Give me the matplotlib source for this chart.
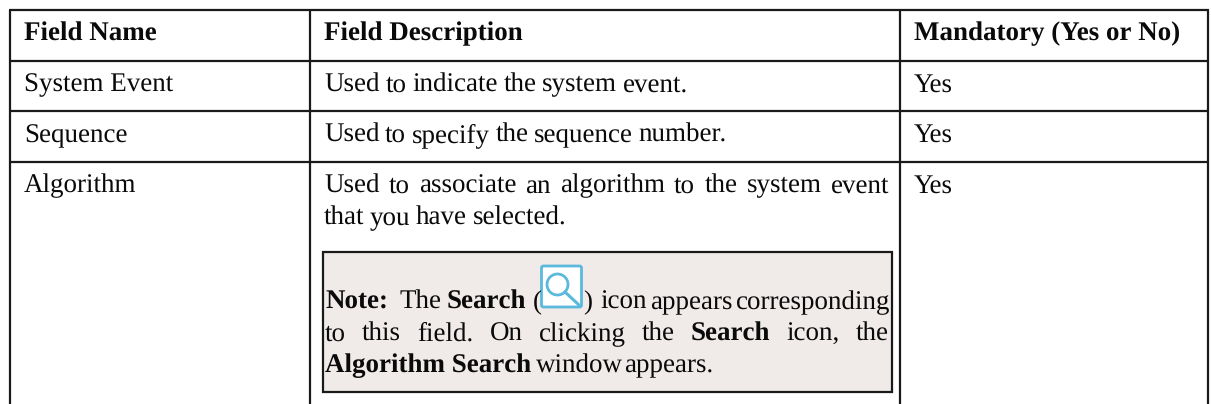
import matplotlib
matplotlib.use("Agg")
import matplotlib.pyplot as plt
from matplotlib.patches import Rectangle, FancyBboxPatch, Circle
from matplotlib.lines import Line2D

plt.rcParams["text.hinting"] = "no_hinting"
plt.rcParams["text.hinting_factor"] = 1

W, H = 1211, 404
FONT = "Liberation Serif"
FS = 19.1
FS_BOLD = 19.1

headers = ["Field Name", "Field Description", "Mandatory (Yes or No)"]
names = ["System Event", "Sequence", "Algorithm"]
mandatory = ["Yes", "Yes", "Yes"]
desc_single = [["Used", "to", "indicate", "the", "system", "event."],
               ["Used", "to", "specify", "the", "sequence", "number."]]
desc_alg = [["Used", "to", "associate", "an", "algorithm", "to", "the", "system", "event"],
            ["that", "you", "have", "selected."]]

fig = plt.figure(figsize=(W / 100, H / 100), dpi=100)
ax = fig.add_axes([0, 0, 1, 1])
ax.set_xlim(0, W)
ax.set_ylim(H, 0)
ax.axis("off")

def t(x, y, s, bold=False, ha="left"):
    return ax.text(x, y, s, family=FONT, fontsize=FS_BOLD if bold else FS, weight="bold" if bold else "normal",
                   ha=ha, va="baseline", color="#0a0a0a", zorder=5)

def line(x0, y0, x1, y1, lw=1.6, c="#1a1a1a"):
    ax.add_line(Line2D([x0, x1], [y0, y1], lw=lw, color=c, solid_capstyle="butt"))

def justify(x0, x1, y, parts):
    r = fig.canvas.get_renderer()
    arts = [t(0, y, s, b) for s, b in parts]
    widths = [a.get_window_extent(r).width for a in arts]
    gap = (x1 - x0 - sum(widths)) / (len(parts) - 1)
    x = x0
    for a, w in zip(arts, widths):
        a.set_x(x)
        x += w + gap

X = [10, 310, 899.5, 1207.5]
Y = [10, 60.5, 110.5, 162]
for y in Y:
    line(X[0] - 1, y, X[3] + 1, y)
for x in X:
    line(x, Y[0], x, H)

bases = [40.5, 91.5, 142, 192.5]
for x, s in zip([24, 324, 914], headers):
    t(x, bases[0], s, True)
for i in range(3):
    t(24, bases[i + 1], names[i])
    t(914, bases[i + 1], mandatory[i])
justify(324, 688, bases[1], [(w, False) for w in desc_single[0]])
justify(324, 727, bases[2], [(w, False) for w in desc_single[1]])
justify(324, 889, bases[3], [(w, False) for w in desc_alg[0]])
justify(324, 566.5, 225, [(w, False) for w in desc_alg[1]])

# note box
ax.add_patch(Rectangle((322.5, 252), 569, 139.5, fc="#f0ebe9", ec="#1a1a1a", lw=1.6, zorder=0.5))

t(325, 309, "Note:", True)
t(400, 309, "The")
t(447, 309, "Search", True)
t(532.5, 309, "(")
t(583, 309, ")")
t(600, 309, "icon")
t(650, 309, "appears")
t(736, 309, "corresponding")

# search icon
ICON = "#5ab9dc"
ax.add_patch(FancyBboxPatch((541.5, 266), 40, 41, boxstyle="round,pad=0,rounding_size=2",
                            fc="white", ec=ICON, lw=2.0, zorder=3))
ax.add_patch(Circle((557.5, 284.5), 10.5, fc="none", ec=ICON, lw=2.0, zorder=4))
ax.add_line(Line2D([565, 579], [292, 305], color=ICON, lw=2.2, zorder=4))

justify(325, 889, 341, [("to", False), ("this", False), ("field.", False), ("On", False), ("clicking", False),
                        ("the", False), ("Search", True), ("icon,", False), ("the", False)])
t(325, 372.5, "Algorithm Search", True)
justify(536, 713, 372.5, [("window", False), ("appears.", False)])

fig.savefig("out.png", dpi=100)
